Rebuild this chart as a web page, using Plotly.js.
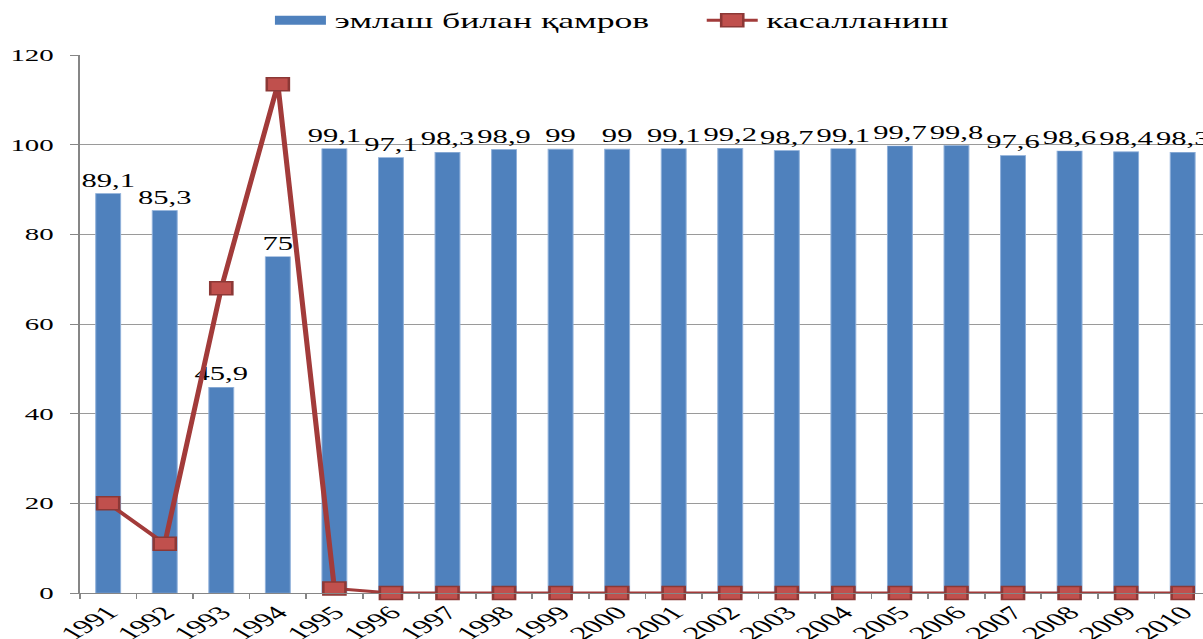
<!DOCTYPE html>
<html><head><meta charset="utf-8">
<script src="https://cdn.plot.ly/plotly-3.0.1.min.js"></script>
<style>
html,body{margin:0;padding:0;overflow:hidden;background:#fff;width:1203px;height:639px}
#chart{width:708px;height:639px;transform:scale(1.7,1);transform-origin:0 0}
</style></head><body><div id="chart"></div>
<script>
const years = ['1991','1992','1993','1994','1995','1996','1997','1998','1999','2000','2001','2002','2003','2004','2005','2006','2007','2008','2009','2010'];
const coverage = [89.1,85.3,45.9,75,99.1,97.1,98.3,98.9,99,99,99.1,99.2,98.7,99.1,99.7,99.8,97.6,98.6,98.4,98.3];
const incidence = [20,11,68,113.5,1,0,0,0,0,0,0,0,0,0,0,0,0,0,0,0];
const coverageName = 'эмлаш билан қамров';
const incidenceName = 'касалланиш';
const coverageText = coverage.map(v => String(v).replace('.', ','));

const serif = 'Liberation Serif, Times New Roman, serif';
const barColor = '#4F81BD';
const traces = [
  {type:'bar', x:years, y:coverage, name:coverageName, showlegend:false,
   marker:{color:barColor, line:{color:'#8FB0DA', width:0.6}},
   text:coverageText, textposition:'outside', constraintext:'none', cliponaxis:false,
   textfont:{family:serif, size:18, color:'#000'}, hoverinfo:'x+y'},
  // legend swatch for the bar series (wide flat bar, as in the reference)
  {type:'scatter', mode:'lines', x:[null], y:[null], name:coverageName,
   line:{color:barColor, width:9}, hoverinfo:'skip'},
  {type:'scatter', mode:'lines+markers', x:years, y:incidence, name:incidenceName,
   line:{color:'#A23B3A', width:3},
   marker:{symbol:'square', size:13, color:'#C0504D', line:{color:'#8C3836', width:1.5}},
   cliponaxis:false}
];
const layout = {
  width:708, height:639,
  margin:{l:47, r:0, t:55, b:46},
  paper_bgcolor:'#fff', plot_bgcolor:'#fff',
  bargap:0.56,
  showlegend:true,
  legend:{orientation:'h', x:0.166, xanchor:'left', yref:'container', y:1.0, yanchor:'top',
    entrywidth:209, entrywidthmode:'pixels',
    font:{family:serif, size:21, color:'#000'}, itemwidth:30},
  xaxis:{type:'category', range:[-0.5, 19.37], tickson:'boundaries', ticks:'outside', ticklen:5,
    tickcolor:'#868686', showline:true, linecolor:'#868686', linewidth:1, tickangle:-45,
    tickfont:{family:serif, size:19, color:'#000'}, showgrid:false},
  yaxis:{range:[0,120], dtick:20, ticks:'outside', ticklen:5, tickcolor:'#868686',
    ticklabelstandoff:6,
    showline:true, linecolor:'#868686', linewidth:1, gridcolor:'#9a9a9a', gridwidth:1,
    zeroline:false, tickfont:{family:serif, size:17, color:'#000'}}
};
Plotly.newPlot('chart', traces, layout, {displayModeBar:false, staticPlot:true});
</script></body></html>
